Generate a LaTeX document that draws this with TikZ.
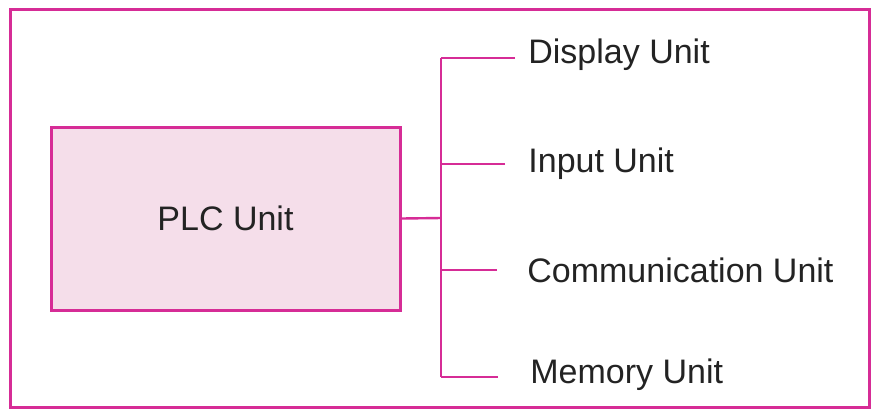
\documentclass[tikz,border=0pt]{standalone}
\usepackage{fontspec}
\setmainfont{Liberation Sans}
\usepackage{tikz}
\usetikzlibrary{positioning}
\definecolor{colorwire}  {RGB}{214,44,150}
\definecolor{colorbox}   {RGB}{245,222,234}
\definecolor{colortext}  {RGB}{35 ,35 ,35 }

\begin{document}
\begin{tikzpicture}[
    x=0.5pt, y=-0.5pt,
    font={\fontsize{17}{20}\selectfont},
    wire/.style={draw=colorwire,line width=1.2pt},
    unit/.style={text=colortext,anchor=west,inner ysep=0pt},
    plcbox/.style={draw=colorwire,fill=colorbox,line width=1.5pt,text=colortext,
        minimum width=174.5pt,minimum height=91.5pt},
]
    \useasboundingbox (0,0) rectangle (874,409);
    \draw[colorwire,line width=1.5pt] (10,9) rectangle (869,407);

    \node[plcbox] (plc) at (225.5,218.5) {PLC Unit};

    \coordinate (trunk) at (441,218);
    \coordinate (top) at (441,58);
    \coordinate (bottom) at (441,377);

    \node[unit,inner xsep=6.5pt] (display) at (515,55) {Display Unit};
    \node[unit,inner xsep=11.5pt] (input) at (505,164) {Input Unit};
    \node[unit,inner xsep=15pt] (comm) at (497,270) {Communication Unit};
    \node[unit,inner xsep=16pt] (memory) at (498,375) {Memory Unit};

    \draw[wire] (plc.east) -- (trunk);
    \draw[wire] (top) -- (bottom);
    \draw[wire] (display.west |- top) -- (top);
    \draw[wire] (input.west) -- (input.west -| trunk);
    \draw[wire] (comm.west) -- (comm.west -| trunk);
    \draw[wire] (memory.west |- bottom) -- (bottom);

\end{tikzpicture}
\end{document}
